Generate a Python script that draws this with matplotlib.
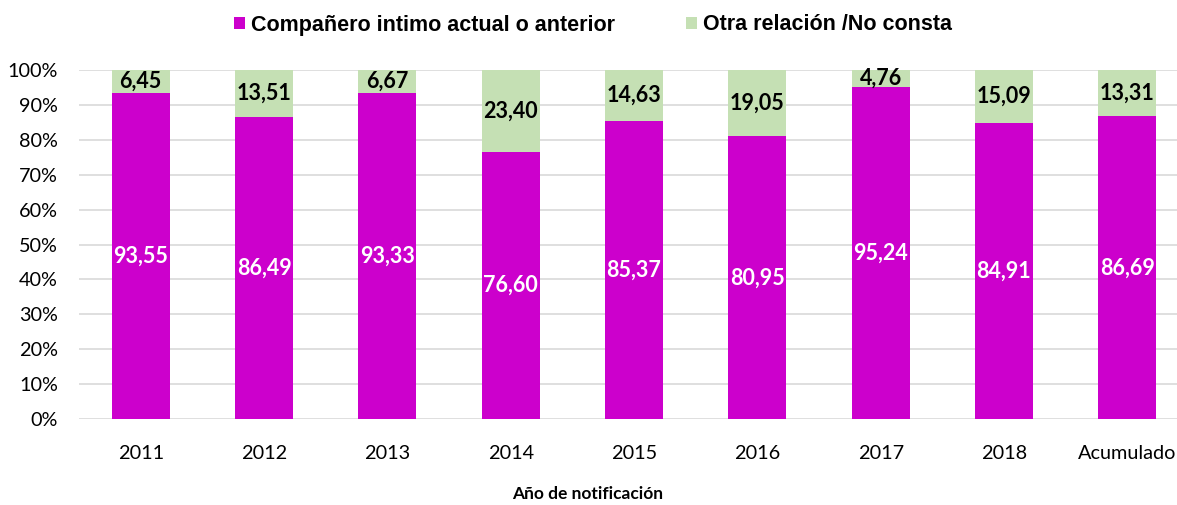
import numpy as np
import matplotlib.pyplot as plt

categorias = ['2011', '2012', '2013', '2014', '2015', '2016', '2017', '2018', 'Acumulado']
companero = [93.55, 86.49, 93.33, 76.60, 85.37, 80.95, 95.24, 84.91, 86.69]
otra = [6.45, 13.51, 6.67, 23.40, 14.63, 19.05, 4.76, 15.09, 13.31]

magenta = '#CC00CC'
verde = '#C5E0B4'

fig = plt.figure(figsize=(11.77, 5.05), dpi=100)
W, H = 1177, 505
ax = fig.add_axes([79 / W, (H - 419) / H, (1189 - 79) / W, (419 - 70) / H])

x = np.arange(len(categorias))
ax.bar(x, companero, width=0.47, color=magenta, zorder=2,
       label='Compañero intimo actual o anterior')
ax.bar(x, otra, width=0.47, bottom=companero, color=verde, zorder=2,
       label='Otra relación /No consta')

def fmt(v):
    return f'{v:.2f}'.replace('.', ',')

for i in range(len(categorias)):
    ax.text(x[i], companero[i] / 2, fmt(companero[i]), ha='center', va='center',
            color='white', fontsize=15.5, fontweight='bold', family='Lato', zorder=3)
    ax.text(x[i], companero[i] + otra[i] / 2, fmt(otra[i]), ha='center', va='center',
            color='black', fontsize=15.5, fontweight='bold', family='Lato', zorder=3)

ax.set_xlim(-0.5, len(categorias) - 0.5)
ax.set_ylim(0, 100)
ax.set_yticks(np.arange(0, 101, 10))
ax.set_yticklabels([f'{v}%' for v in range(0, 101, 10)])
ax.set_xticks(x)
ax.set_xticklabels(categorias)
ax.tick_params(length=0, labelsize=14.3)
ax.tick_params(axis='y', pad=15)
ax.tick_params(axis='x', pad=19)
for lab in ax.get_xticklabels() + ax.get_yticklabels():
    lab.set_family('Lato')
ax.grid(axis='y', color='#D9D9D9', linewidth=1.2, zorder=0)
for s in ax.spines.values():
    s.set_visible(False)

fig.text(588 / W, 1 - 494 / H, 'Año de notificación', ha='center', va='center',
         fontsize=12.5, fontweight='bold', family='Lato')

fig.legend(loc='center', bbox_to_anchor=(593 / W, 1 - 25 / H), ncol=2, frameon=False,
           prop={'family': 'Liberation Sans', 'weight': 'bold', 'size': 15.5},
           handlelength=0.5, handleheight=0.5, handletextpad=0.28, columnspacing=3.3)

fig.savefig('out.png', dpi=100)
